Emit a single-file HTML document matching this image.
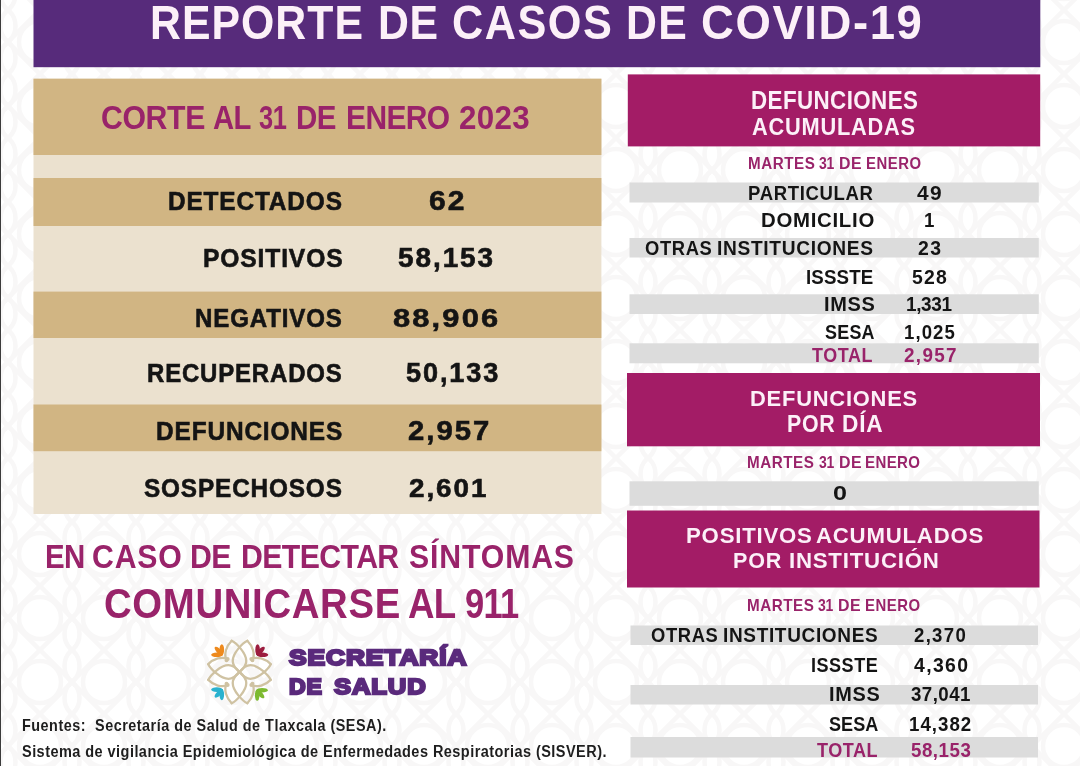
<!DOCTYPE html>
<html lang="es"><head><meta charset="utf-8"><title>Reporte de casos de COVID-19</title>
<style>
html,body{margin:0;padding:0}
body{width:1080px;height:766px;position:relative;overflow:hidden;background:#fcfcfc;font-family:"Liberation Sans",sans-serif}
.r{position:absolute}
.t{position:absolute;white-space:pre;line-height:1;font-weight:700;transform-origin:0 0}
#tx{position:absolute;left:0;top:0;width:1080px;height:766px;will-change:transform;filter:blur(0.45px)}
.rs,.logo{filter:blur(0.4px)}

</style></head><body>
<svg class="bgp" style="position:absolute;left:0;top:0" width="1080" height="766">
<defs><pattern id="pt" width="64" height="64" patternUnits="userSpaceOnUse" patternTransform="translate(8 10)">
<g fill="none" stroke="#f8f7f7" stroke-width="4.5">
<circle cx="32" cy="32" r="21"/>
<path d="M32 0L64 32L32 64L0 32Z"/>
<path d="M0 0c10 8 10 24 0 32M64 0c-10 8-10 24 0 32M0 64c10-8 10-24 0-32M64 64c-10-8-10-24 0-32"/>
</g></pattern></defs>
<rect width="1080" height="766" fill="#ffffff"/>
<rect width="1080" height="766" fill="url(#pt)"/>
</svg>

<svg class="rs" style="position:absolute;left:0;top:0" width="1080" height="766">
<rect x="0" y="0" width="1.00" height="766.00" fill="#3c3c3c"/>
<rect x="33.5" y="0" width="1006.80" height="67.20" fill="#572b7b"/>
<rect x="33.5" y="78.7" width="567.90" height="435.30" fill="#ebe1cf"/>
<rect x="33.5" y="78.7" width="567.90" height="76.30" fill="#d1b583"/>
<rect x="33.5" y="178" width="567.90" height="48.00" fill="#d1b583"/>
<rect x="33.5" y="291.6" width="567.90" height="46.40" fill="#d1b583"/>
<rect x="33.5" y="404.5" width="567.90" height="46.70" fill="#d1b583"/>
<rect x="627.8" y="74.4" width="412.40" height="72.00" fill="#a31c66"/>
<rect x="629.5" y="182.5" width="409.30" height="20.00" fill="#dcdcdc"/>
<rect x="629.5" y="238" width="409.30" height="19.50" fill="#dcdcdc"/>
<rect x="629.5" y="294.3" width="409.30" height="19.70" fill="#dcdcdc"/>
<rect x="629.5" y="343.3" width="409.30" height="20.00" fill="#dcdcdc"/>
<rect x="627" y="373" width="413.00" height="73.30" fill="#a31c66"/>
<rect x="629.5" y="481.3" width="409.30" height="24.50" fill="#dcdcdc"/>
<rect x="627" y="510.5" width="412.50" height="77.00" fill="#a31c66"/>
<rect x="630.5" y="625.5" width="407.50" height="19.50" fill="#dcdcdc"/>
<rect x="630.5" y="685" width="407.50" height="19.50" fill="#dcdcdc"/>
<rect x="630.5" y="737" width="407.50" height="20.50" fill="#dcdcdc"/>
</svg>
<svg class="logo" style="position:absolute;left:200px;top:632.1px" width="80" height="80" viewBox="0 0 80 80">
<defs>
<g id="lb"><path d="M31.3 7.3C36 9.5 46.6 20 46.6 28.5C46.6 34 42.5 37.5 39.5 40" /><path d="M31.3 7.3C25.5 13 23 21.5 25.8 27.4"/><circle cx="25.9" cy="27.6" r="0.9" fill="#cfc2a2"/></g>
<g id="lq"><use href="#lb"/><use href="#lb" transform="translate(79 0) scale(-1 1)"/></g>
<g id="fan"><ellipse cx="-5.6" cy="-0.6" rx="5.6" ry="2.3"/><ellipse cx="-5.6" cy="-0.6" rx="5.6" ry="2.3" transform="rotate(45)"/><ellipse cx="-5.6" cy="0.6" rx="5.6" ry="2.3" transform="rotate(90)"/><circle cx="-2" cy="-2" r="2.6"/></g>
</defs>
<g transform="translate(39.5 40) scale(0.955) translate(-39.5 -40)" fill="none" stroke="#cfc2a2" stroke-width="2.4" stroke-linecap="round" stroke-linejoin="round">
<use href="#lq"/><use href="#lq" transform="rotate(90 39.5 40)"/><use href="#lq" transform="rotate(180 39.5 40)"/><use href="#lq" transform="rotate(270 39.5 40)"/>
</g>
<use href="#fan" transform="translate(22.4 23.4)" fill="#ee8a1e"/>
<use href="#fan" transform="translate(57 23.4) scale(-1 1)" fill="#9c1c3e"/>
<use href="#fan" transform="translate(22.4 57) scale(1 -1)" fill="#2ab2cf"/>
<use href="#fan" transform="translate(56.6 57.6) scale(-1 -1)" fill="#7dba30"/>
</svg>

<div id="tx">
<div class="t" style="left:150.03px;top:-1.00px;font-size:47.53px;color:#fcf0f8;letter-spacing:1.161px;transform:scaleX(0.9000);">REPORTE</div>
<div class="t" style="left:377.63px;top:-1.00px;font-size:47.53px;color:#fcf0f8;letter-spacing:0.807px;transform:scaleX(0.9000);">DE</div>
<div class="t" style="left:452.27px;top:-1.00px;font-size:47.53px;color:#fcf0f8;letter-spacing:1.664px;transform:scaleX(0.9098);">CASOS</div>
<div class="t" style="left:626.43px;top:-1.00px;font-size:47.53px;color:#fcf0f8;letter-spacing:1.473px;transform:scaleX(0.9000);">DE</div>
<div class="t" style="left:700.68px;top:-1.00px;font-size:47.53px;color:#fcf0f8;letter-spacing:1.664px;transform:scaleX(0.9571);">COVID-19</div>
<div class="t" style="left:100.99px;top:101.00px;font-size:33.58px;color:#99236a;letter-spacing:-0.399px;transform:scaleX(0.9000);">CORTE</div>
<div class="t" style="left:212.72px;top:101.00px;font-size:33.58px;color:#99236a;letter-spacing:-0.672px;transform:scaleX(0.8709);">AL</div>
<div class="t" style="left:258.69px;top:101.00px;font-size:33.00px;color:#99236a;letter-spacing:-0.660px;transform:scaleX(0.7705);">31</div>
<div class="t" style="left:296.23px;top:101.00px;font-size:33.58px;color:#99236a;letter-spacing:-0.672px;transform:scaleX(0.8779);">DE</div>
<div class="t" style="left:346.20px;top:101.00px;font-size:33.58px;color:#99236a;letter-spacing:-0.672px;transform:scaleX(0.8922);">ENERO</div>
<div class="t" style="left:458.76px;top:101.00px;font-size:33.00px;color:#99236a;letter-spacing:0.327px;transform:scaleX(0.9500);">2023</div>
<div class="t" style="left:168.14px;top:189.00px;font-size:25.87px;color:#141414;letter-spacing:0.906px;-webkit-text-stroke:0.6px #141414;transform:scaleX(0.9431);">DETECTADOS</div>
<div class="t" style="left:202.52px;top:245.00px;font-size:26.02px;color:#141414;letter-spacing:0.911px;-webkit-text-stroke:0.6px #141414;transform:scaleX(0.9462);">POSITIVOS</div>
<div class="t" style="left:195.15px;top:305.00px;font-size:26.45px;color:#141414;letter-spacing:0.926px;-webkit-text-stroke:0.6px #141414;transform:scaleX(0.9113);">NEGATIVOS</div>
<div class="t" style="left:147.26px;top:361.00px;font-size:25.87px;color:#141414;letter-spacing:0.906px;-webkit-text-stroke:0.6px #141414;transform:scaleX(0.9264);">RECUPERADOS</div>
<div class="t" style="left:155.73px;top:418.00px;font-size:26.45px;color:#141414;letter-spacing:0.926px;-webkit-text-stroke:0.6px #141414;transform:scaleX(0.9236);">DEFUNCIONES</div>
<div class="t" style="left:144.11px;top:475.00px;font-size:26.45px;color:#141414;letter-spacing:0.926px;-webkit-text-stroke:0.6px #141414;transform:scaleX(0.9206);">SOSPECHOSOS</div>
<div class="t" style="left:429.20px;top:188.00px;font-size:26.71px;color:#141414;letter-spacing:1.870px;-webkit-text-stroke:0.6px #141414;transform:scaleX(1.1235);">62</div>
<div class="t" style="left:398.16px;top:245.00px;font-size:26.71px;color:#141414;letter-spacing:1.870px;-webkit-text-stroke:0.6px #141414;transform:scaleX(1.0449);">58,153</div>
<div class="t" style="left:393.27px;top:305.00px;font-size:26.57px;color:#141414;letter-spacing:1.860px;-webkit-text-stroke:0.6px #141414;transform:scaleX(1.1609);">88,906</div>
<div class="t" style="left:406.19px;top:360.00px;font-size:26.71px;color:#141414;letter-spacing:1.870px;-webkit-text-stroke:0.6px #141414;transform:scaleX(1.0147);">50,133</div>
<div class="t" style="left:407.52px;top:418.00px;font-size:27.00px;color:#141414;letter-spacing:1.890px;-webkit-text-stroke:0.6px #141414;transform:scaleX(1.0826);">2,957</div>
<div class="t" style="left:409.06px;top:475.00px;font-size:26.14px;color:#141414;letter-spacing:1.830px;-webkit-text-stroke:0.6px #141414;transform:scaleX(1.0649);">2,601</div>
<div class="t" style="left:44.53px;top:540.00px;font-size:33.58px;color:#99236a;letter-spacing:-0.672px;transform:scaleX(0.8766);">EN</div>
<div class="t" style="left:91.79px;top:540.00px;font-size:33.58px;color:#99236a;letter-spacing:0.943px;transform:scaleX(0.9000);">CASO</div>
<div class="t" style="left:190.39px;top:540.00px;font-size:33.58px;color:#99236a;letter-spacing:-0.608px;transform:scaleX(0.9000);">DE</div>
<div class="t" style="left:241.09px;top:540.00px;font-size:33.58px;color:#99236a;letter-spacing:-0.650px;transform:scaleX(0.9000);">DETECTAR</div>
<div class="t" style="left:408.60px;top:540.00px;font-size:33.58px;color:#99236a;letter-spacing:0.965px;transform:scaleX(0.9000);">SÍNTOMAS</div>
<div class="t" style="left:104.17px;top:582.00px;font-size:42.59px;color:#99236a;letter-spacing:0.739px;transform:scaleX(0.9000);">COMUNICARSE</div>
<div class="t" style="left:407.97px;top:582.00px;font-size:42.59px;color:#99236a;letter-spacing:-0.852px;transform:scaleX(0.8620);">AL</div>
<div class="t" style="left:465.07px;top:583.00px;font-size:41.86px;color:#99236a;letter-spacing:-0.837px;transform:scaleX(0.8236);">911</div>
<div class="t" style="left:288.62px;top:647.00px;font-size:22.38px;color:#5a2a7c;letter-spacing:0.783px;-webkit-text-stroke:2.3px #5a2a7c;transform:scaleX(1.1771);">SECRETARÍA</div>
<div class="t" style="left:289.07px;top:675.00px;font-size:22.82px;color:#5a2a7c;letter-spacing:0.799px;-webkit-text-stroke:2.3px #5a2a7c;transform:scaleX(1.0104);">DE</div>
<div class="t" style="left:334.34px;top:675.00px;font-size:22.82px;color:#5a2a7c;letter-spacing:0.799px;-webkit-text-stroke:2.3px #5a2a7c;transform:scaleX(1.1215);">SALUD</div>
<div class="t" style="left:21.64px;top:718.00px;font-size:15.99px;color:#1e1e1e;letter-spacing:0.560px;transform:scaleX(0.9007);">Fuentes: &nbsp;Secretaría de Salud de Tlaxcala (SESA).</div>
<div class="t" style="left:21.71px;top:743.00px;font-size:16.13px;color:#1e1e1e;letter-spacing:0.506px;transform:scaleX(0.9000);">Sistema de vigilancia Epidemiológica de Enfermedades Respiratorias (SISVER).</div>
<div class="t" style="left:750.66px;top:89.00px;font-size:24.85px;color:#fcf0f8;letter-spacing:0.462px;transform:scaleX(0.9000);">DEFUNCIONES</div>
<div class="t" style="left:752.46px;top:115.00px;font-size:24.13px;color:#fcf0f8;letter-spacing:0.844px;transform:scaleX(0.9033);">ACUMULADAS</div>
<div class="t" style="left:747.89px;top:155.00px;font-size:16.42px;color:#99236a;letter-spacing:0.575px;transform:scaleX(0.9260);">MARTES</div>
<div class="t" style="left:819.22px;top:155.00px;font-size:16.14px;color:#99236a;letter-spacing:-0.323px;transform:scaleX(0.8645);">31</div>
<div class="t" style="left:838.95px;top:155.00px;font-size:16.42px;color:#99236a;letter-spacing:0.575px;transform:scaleX(0.9680);">DE</div>
<div class="t" style="left:865.81px;top:155.00px;font-size:16.42px;color:#99236a;letter-spacing:0.575px;transform:scaleX(0.9069);">ENERO</div>
<div class="t" style="left:748.19px;top:183.00px;font-size:20.06px;color:#141414;letter-spacing:0.702px;transform:scaleX(0.9249);">PARTICULAR</div>
<div class="t" style="left:761.28px;top:210.00px;font-size:20.06px;color:#141414;letter-spacing:0.702px;transform:scaleX(1.0164);">DOMICILIO</div>
<div class="t" style="left:645.06px;top:238.00px;font-size:20.06px;color:#141414;letter-spacing:0.702px;transform:scaleX(0.9165);">OTRAS</div>
<div class="t" style="left:717.15px;top:238.00px;font-size:20.06px;color:#141414;letter-spacing:0.702px;transform:scaleX(0.9555);">INSTITUCIONES</div>
<div class="t" style="left:806.38px;top:267.00px;font-size:20.78px;color:#141414;letter-spacing:0.174px;transform:scaleX(0.9000);">ISSSTE</div>
<div class="t" style="left:823.80px;top:294.00px;font-size:20.35px;color:#141414;letter-spacing:0.712px;transform:scaleX(0.9817);">IMSS</div>
<div class="t" style="left:824.64px;top:323.00px;font-size:19.91px;color:#141414;letter-spacing:0.279px;transform:scaleX(0.9000);">SESA</div>
<div class="t" style="left:812.32px;top:346.00px;font-size:19.91px;color:#99236a;letter-spacing:0.690px;transform:scaleX(0.9000);">TOTAL</div>
<div class="t" style="left:917.29px;top:184.00px;font-size:19.71px;color:#141414;letter-spacing:1.380px;transform:scaleX(1.0626);">49</div>
<div class="t" style="left:924.28px;top:211.00px;font-size:19.71px;color:#141414;transform:scaleX(0.9500);">1</div>
<div class="t" style="left:918.22px;top:239.00px;font-size:19.71px;color:#141414;letter-spacing:1.380px;transform:scaleX(0.9862);">23</div>
<div class="t" style="left:911.92px;top:267.00px;font-size:20.43px;color:#141414;letter-spacing:1.321px;transform:scaleX(0.9500);">528</div>
<div class="t" style="left:906.36px;top:294.00px;font-size:20.00px;color:#141414;letter-spacing:-0.400px;transform:scaleX(0.9481);">1,331</div>
<div class="t" style="left:903.88px;top:323.00px;font-size:19.57px;color:#141414;letter-spacing:1.151px;transform:scaleX(0.9500);">1,025</div>
<div class="t" style="left:904.43px;top:346.00px;font-size:19.29px;color:#99236a;letter-spacing:1.350px;transform:scaleX(0.9793);">2,957</div>
<div class="t" style="left:750.49px;top:387.00px;font-size:22.97px;color:#fcf0f8;letter-spacing:0.804px;transform:scaleX(0.9540);">DEFUNCIONES</div>
<div class="t" style="left:786.62px;top:413.00px;font-size:23.11px;color:#fcf0f8;letter-spacing:0.809px;transform:scaleX(0.9234);">POR</div>
<div class="t" style="left:842.04px;top:413.00px;font-size:23.11px;color:#fcf0f8;letter-spacing:0.809px;transform:scaleX(0.9818);">DÍA</div>
<div class="t" style="left:747.49px;top:455.00px;font-size:16.72px;color:#99236a;letter-spacing:0.585px;transform:scaleX(0.9099);">MARTES</div>
<div class="t" style="left:818.82px;top:454.00px;font-size:16.43px;color:#99236a;letter-spacing:-0.329px;transform:scaleX(0.8495);">31</div>
<div class="t" style="left:838.55px;top:455.00px;font-size:16.72px;color:#99236a;letter-spacing:0.585px;transform:scaleX(0.9511);">DE</div>
<div class="t" style="left:865.40px;top:455.00px;font-size:16.72px;color:#99236a;letter-spacing:0.437px;transform:scaleX(0.9000);">ENERO</div>
<div class="t" style="left:833.25px;top:483.00px;font-size:20.29px;color:#141414;transform:scaleX(1.2374);">0</div>
<div class="t" style="left:685.87px;top:525.00px;font-size:22.53px;color:#fcf0f8;letter-spacing:0.789px;transform:scaleX(0.9860);">POSITIVOS</div>
<div class="t" style="left:816.26px;top:525.00px;font-size:22.53px;color:#fcf0f8;letter-spacing:0.789px;transform:scaleX(0.9857);">ACUMULADOS</div>
<div class="t" style="left:732.71px;top:550.00px;font-size:22.24px;color:#fcf0f8;letter-spacing:0.778px;transform:scaleX(0.9700);">POR</div>
<div class="t" style="left:788.97px;top:550.00px;font-size:22.24px;color:#fcf0f8;letter-spacing:0.778px;">INSTITUCIÓN</div>
<div class="t" style="left:746.99px;top:598.00px;font-size:16.57px;color:#99236a;letter-spacing:0.580px;transform:scaleX(0.9179);">MARTES</div>
<div class="t" style="left:818.32px;top:597.00px;font-size:16.29px;color:#99236a;letter-spacing:-0.326px;transform:scaleX(0.8569);">31</div>
<div class="t" style="left:838.05px;top:598.00px;font-size:16.57px;color:#99236a;letter-spacing:0.580px;transform:scaleX(0.9595);">DE</div>
<div class="t" style="left:864.91px;top:598.00px;font-size:16.57px;color:#99236a;letter-spacing:0.563px;transform:scaleX(0.9000);">ENERO</div>
<div class="t" style="left:650.56px;top:626.00px;font-size:19.62px;color:#141414;letter-spacing:0.687px;transform:scaleX(0.9369);">OTRAS</div>
<div class="t" style="left:723.36px;top:626.00px;font-size:19.62px;color:#141414;letter-spacing:0.687px;transform:scaleX(0.9685);">INSTITUCIONES</div>
<div class="t" style="left:811.42px;top:655.00px;font-size:20.06px;color:#141414;letter-spacing:0.566px;transform:scaleX(0.9000);">ISSSTE</div>
<div class="t" style="left:828.81px;top:684.00px;font-size:20.06px;color:#141414;letter-spacing:0.702px;transform:scaleX(0.9919);">IMSS</div>
<div class="t" style="left:829.14px;top:714.00px;font-size:20.06px;color:#141414;letter-spacing:0.038px;transform:scaleX(0.9000);">SESA</div>
<div class="t" style="left:817.32px;top:740.00px;font-size:20.06px;color:#99236a;letter-spacing:0.573px;transform:scaleX(0.9000);">TOTAL</div>
<div class="t" style="left:914.44px;top:626.00px;font-size:19.29px;color:#141414;letter-spacing:1.350px;transform:scaleX(0.9640);">2,370</div>
<div class="t" style="left:913.61px;top:656.00px;font-size:19.71px;color:#141414;letter-spacing:1.380px;transform:scaleX(0.9862);">4,360</div>
<div class="t" style="left:910.93px;top:685.00px;font-size:19.71px;color:#141414;letter-spacing:0.480px;transform:scaleX(0.9500);">37,041</div>
<div class="t" style="left:908.88px;top:715.00px;font-size:19.71px;color:#141414;letter-spacing:1.056px;transform:scaleX(0.9500);">14,382</div>
<div class="t" style="left:910.74px;top:741.00px;font-size:19.71px;color:#99236a;letter-spacing:0.559px;transform:scaleX(0.9500);">58,153</div>
</div>
</body></html>
